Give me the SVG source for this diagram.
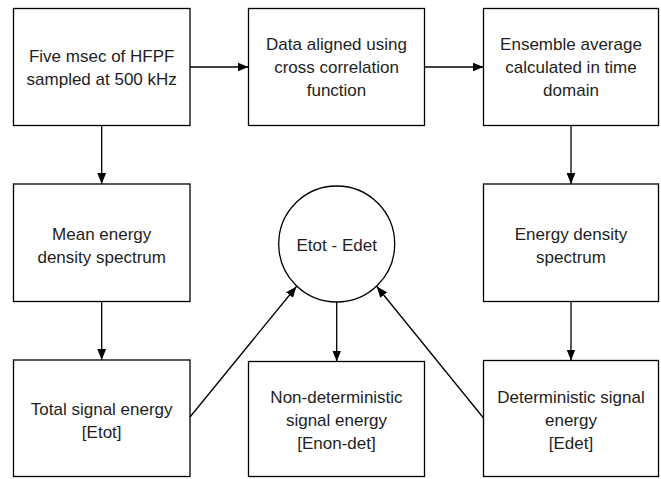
<svg xmlns="http://www.w3.org/2000/svg" width="661" height="479" viewBox="0 0 661 479">
<defs>
<marker id="ah" viewBox="0 0 10 10" refX="10" refY="5" markerWidth="11" markerHeight="11" markerUnits="userSpaceOnUse" orient="auto">
<path d="M0,1 L10,5 L0,9 z" fill="#000"/>
</marker>
<style>
.box{fill:#fff;stroke:#000;stroke-width:1.3}
.t{font-family:"Liberation Sans",Arial,sans-serif;font-size:17px;fill:#1e1e1e;text-anchor:middle}
.c{stroke:#000;stroke-width:1.3;fill:none}
</style>
</defs>
<rect width="661" height="479" fill="#fff"/>
<g id="n1"><rect class="box" x="13.5" y="8.5" width="176.5" height="117"/>
<text class="t" x="101.7" y="61.5">Five msec of HFPF</text><text class="t" x="101.7" y="84.5">sampled at 500 kHz</text></g>
<g id="n2"><rect class="box" x="248.5" y="8.5" width="176" height="117"/>
<text class="t" x="336.5" y="49.5">Data aligned using</text><text class="t" x="336.5" y="72.5">cross correlation</text><text class="t" x="336.5" y="95.5">function</text></g>
<g id="n3"><rect class="box" x="483.5" y="8.5" width="175" height="117"/>
<text class="t" x="571" y="49.5">Ensemble average</text><text class="t" x="571" y="72.5">calculated in time</text><text class="t" x="571" y="95.5">domain</text></g>
<g id="n4"><rect class="box" x="13.5" y="184" width="176.5" height="117.5"/>
<text class="t" x="101.7" y="239.5">Mean energy</text><text class="t" x="101.7" y="262.5">density spectrum</text></g>
<g id="n5"><circle class="box" cx="336.7" cy="244" r="58"/>
<text class="t" x="336.7" y="251">Etot - Edet</text></g>
<g id="n6"><rect class="box" x="483.5" y="184" width="175" height="117.5"/>
<text class="t" x="571" y="239.5">Energy density</text><text class="t" x="571" y="262.5">spectrum</text></g>
<g id="n7"><rect class="box" x="13.5" y="360" width="176.5" height="116.5"/>
<text class="t" x="101.7" y="415">Total signal energy</text><text class="t" x="101.7" y="438">[Etot]</text></g>
<g id="n8"><rect class="box" x="248.5" y="361.5" width="176" height="115"/>
<text class="t" x="336.5" y="403">Non-deterministic</text><text class="t" x="336.5" y="426">signal energy</text><text class="t" x="336.5" y="449">[Enon-det]</text></g>
<g id="n9"><rect class="box" x="483.5" y="360.5" width="175" height="116"/>
<text class="t" x="571" y="403">Deterministic signal</text><text class="t" x="571" y="426">energy</text><text class="t" x="571" y="449">[Edet]</text></g>
<g id="connectors">
<line class="c" x1="190" y1="67" x2="248.5" y2="67" marker-end="url(#ah)"/>
<line class="c" x1="424.5" y1="67" x2="483.5" y2="67" marker-end="url(#ah)"/>
<line class="c" x1="101.7" y1="125.5" x2="101.7" y2="184" marker-end="url(#ah)"/>
<line class="c" x1="571" y1="125.5" x2="571" y2="184" marker-end="url(#ah)"/>
<line class="c" x1="101.7" y1="301.5" x2="101.7" y2="360" marker-end="url(#ah)"/>
<line class="c" x1="571" y1="301.5" x2="571" y2="360.5" marker-end="url(#ah)"/>
<line class="c" x1="336.7" y1="302" x2="336.7" y2="361.5" marker-end="url(#ah)"/>
<line class="c" x1="190" y1="417" x2="296.5" y2="286.5" marker-end="url(#ah)"/>
<line class="c" x1="483.5" y1="418" x2="376.8" y2="286.5" marker-end="url(#ah)"/>
</g>
</svg>
